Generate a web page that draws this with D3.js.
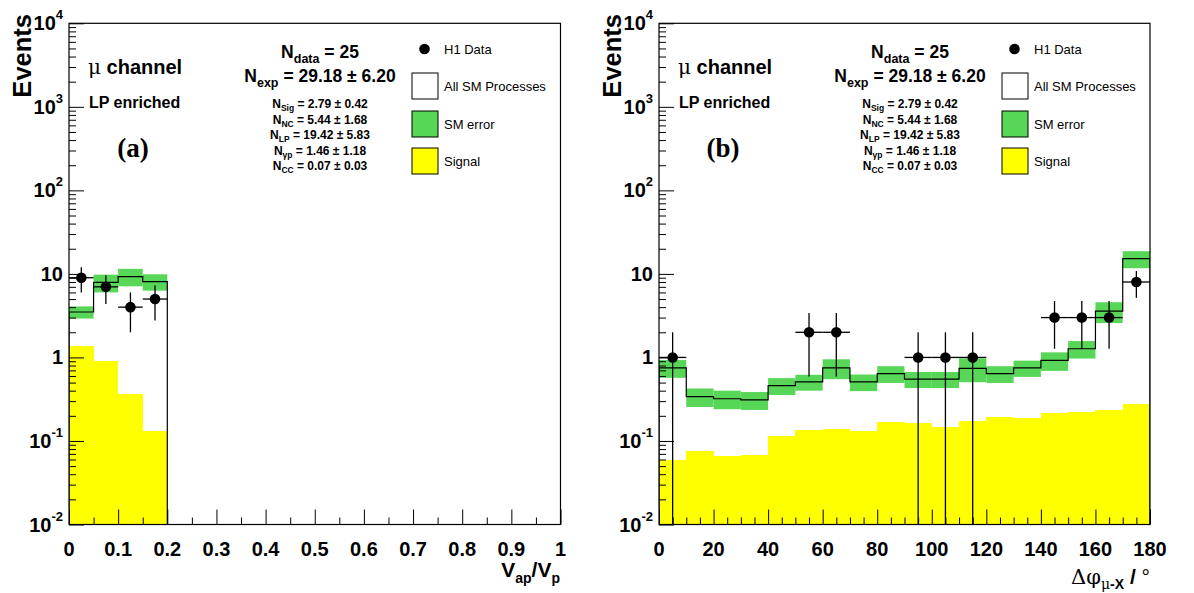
<!DOCTYPE html>
<html>
<head>
<meta charset="utf-8">
<script src="https://cdn.jsdelivr.net/npm/d3@7"></script>
<style>
  html, body { margin: 0; padding: 0; background: #fff; }
  svg { display: block; font-family: "Liberation Sans", Arial, Helvetica, sans-serif; }
</style>
</head>
<body>
<svg id="chart" width="1194" height="593"></svg>
<script>
// ---- (a) V_ap/V_p distribution, 4 bins of 0.05 ----
const aBinLow = [0, 0.05, 0.1, 0.15];
const aBinWidth = 0.05;
const aSM = [3.5, 7.9, 9.3, 8.1];
const aSMErr = [0.58, 1.9, 2.2, 1.8];
const aSignal = [1.38, 0.91, 0.36, 0.133];
const aData = [9, 7, 4, 5];
const aDataErr = [3, 2.65, 2, 2.24];
const aXTicks = [0, 0.1, 0.2, 0.3, 0.4, 0.5, 0.6, 0.7, 0.8, 0.9, 1];
const aXTickLabels = ["0", "0.1", "0.2", "0.3", "0.4", "0.5", "0.6", "0.7", "0.8", "0.9", "1"];
const aXMinor = [0.05, 0.15, 0.25, 0.35, 0.45, 0.55, 0.65, 0.75, 0.85, 0.95];

// ---- (b) Delta phi distribution, 18 bins of 10 degrees ----
const bBinLow = [0, 10, 20, 30, 40, 50, 60, 70, 80, 90, 100, 110, 120, 130, 140, 150, 160, 170];
const bBinWidth = 10;
const bSM = [0.75, 0.34, 0.32, 0.31, 0.46, 0.51, 0.75, 0.51, 0.64, 0.55, 0.55, 0.74, 0.64, 0.75, 0.92, 1.27, 3.58, 15.2];
const bSMErr = [0.18, 0.085, 0.08, 0.075, 0.105, 0.11, 0.2, 0.115, 0.145, 0.12, 0.12, 0.235, 0.145, 0.165, 0.23, 0.3, 1.0, 3.5];
const bSignal = [0.059, 0.076, 0.066, 0.067, 0.116, 0.136, 0.139, 0.132, 0.167, 0.164, 0.148, 0.172, 0.195, 0.187, 0.214, 0.22, 0.237, 0.274];
const bData = [1, 0, 0, 0, 0, 2, 2, 0, 0, 1, 1, 1, 0, 0, 3, 3, 3, 8];
const bDataErr = [1, 0, 0, 0, 0, 1.41, 1.41, 0, 0, 1, 1, 1, 0, 0, 1.73, 1.73, 1.73, 2.83];
const bXTicks = [0, 20, 40, 60, 80, 100, 120, 140, 160, 180];
const bXTickLabels = ["0", "20", "40", "60", "80", "100", "120", "140", "160", "180"];
const bXMinor = d3.range(5, 180, 5).filter(v => v % 20 !== 0);

// ---- shared y axis and summary text ----
const yTicks = [1e-2, 1e-1, 1, 10, 1e2, 1e3, 1e4];
const yTickBase = ["10", "10", "1", "10", "10", "10", "10"];
const yTickExp = ["-2", "-1", "", "", "2", "3", "4"];
const yMinor = [];
for (let e = -2; e < 4; e++) for (let m = 2; m <= 9; m++) yMinor.push(m * Math.pow(10, e));

const summaryTop = [["N", "data", " = 25"], ["N", "exp", " = 29.18 \u00b1 6.20"]];
const summaryParts = [
  ["N", "Sig", " = 2.79 \u00b1 0.42"],
  ["N", "NC", " = 5.44 \u00b1 1.68"],
  ["N", "LP", " = 19.42 \u00b1 5.83"],
  ["N", "\u03b3p", " = 1.46 \u00b1 1.18"],
  ["N", "CC", " = 0.07 \u00b1 0.03"]
];
const legendLabels = ["H1 Data", "All SM Processes", "SM error", "Signal"];

const GREEN = "#57d657";
const YELLOW = "#ffff00";

const svg = d3.select("#chart");

const panels = [
  { id: "a", x0: 69, x1: 560.5, domain: [0, 1], binLow: aBinLow, bw: aBinWidth, sm: aSM, smErr: aSMErr,
    sig: aSignal, data: aData, dataErr: aDataErr, ticks: aXTicks, tickLabels: aXTickLabels, minor: aXMinor, tag: "(a)" },
  { id: "b", x0: 659, x1: 1150, domain: [0, 180], binLow: bBinLow, bw: bBinWidth, sm: bSM, smErr: bSMErr,
    sig: bSignal, data: bData, dataErr: bDataErr, ticks: bXTicks, tickLabels: bXTickLabels, minor: bXMinor, tag: "(b)" }
];

const yTop = 23.3, yBot = 524.5;

panels.forEach(p => {
  const x = d3.scaleLinear().domain(p.domain).range([p.x0, p.x1]);
  const y = d3.scaleLog().domain([1e-2, 1e4]).range([yBot, yTop]).clamp(true);
  const g = svg.append("g");
  const clipId = "clip-" + p.id;
  svg.append("clipPath").attr("id", clipId).append("rect")
    .attr("x", p.x0).attr("y", yTop).attr("width", p.x1 - p.x0).attr("height", yBot - yTop);
  const plot = g.append("g").attr("clip-path", `url(#${clipId})`);

  const bins = p.binLow.map((lo, i) => ({ lo, hi: lo + p.bw, i }));

  // signal contribution (filled)
  plot.selectAll("rect.sig").data(bins).join("rect")
    .attr("x", d => x(d.lo)).attr("width", d => x(d.hi) - x(d.lo))
    .attr("y", d => y(p.sig[d.i])).attr("height", d => yBot - y(p.sig[d.i]))
    .attr("fill", YELLOW).attr("shape-rendering", "crispEdges");

  // SM uncertainty band
  plot.selectAll("rect.band").data(bins).join("rect")
    .attr("x", d => x(d.lo)).attr("width", d => x(d.hi) - x(d.lo))
    .attr("y", d => y(p.sm[d.i] + p.smErr[d.i]))
    .attr("height", d => y(p.sm[d.i] - p.smErr[d.i]) - y(p.sm[d.i] + p.smErr[d.i]))
    .attr("fill", GREEN);

  // SM total as a step outline
  const pts = [[x(bins[0].lo), yBot]];
  bins.forEach(b => { pts.push([x(b.lo), y(p.sm[b.i])]); pts.push([x(b.hi), y(p.sm[b.i])]); });
  pts.push([x(bins[bins.length - 1].hi), yBot]);
  plot.append("path").attr("d", d3.line()(pts)).attr("fill", "none")
    .attr("stroke", "#000").attr("stroke-width", 1.2);

  // data points with error bars
  const dpts = bins.filter(b => p.data[b.i] > 0);
  const dg = plot.selectAll("g.pt").data(dpts).join("g");
  dg.append("line")
    .attr("x1", d => x(d.lo + p.bw / 2)).attr("x2", d => x(d.lo + p.bw / 2))
    .attr("y1", d => y(Math.max(p.data[d.i] - p.dataErr[d.i], 1e-3)))
    .attr("y2", d => y(p.data[d.i] + p.dataErr[d.i]))
    .attr("stroke", "#000").attr("stroke-width", 1.3);
  dg.append("line")
    .attr("x1", d => x(d.lo)).attr("x2", d => x(d.hi))
    .attr("y1", d => y(p.data[d.i])).attr("y2", d => y(p.data[d.i]))
    .attr("stroke", "#000").attr("stroke-width", 1.3);
  dg.append("circle")
    .attr("cx", d => x(d.lo + p.bw / 2)).attr("cy", d => y(p.data[d.i])).attr("r", 5.3)
    .attr("fill", "#000");

  // axes
  const xMaj = d3.axisBottom(x).tickValues(p.ticks).tickSize(-15).tickSizeOuter(0).tickFormat("");
  const xMin = d3.axisBottom(x).tickValues(p.minor).tickSize(-7).tickSizeOuter(0).tickFormat("");
  const yMaj = d3.axisLeft(y).tickValues(yTicks).tickSize(-15).tickSizeOuter(0).tickFormat("");
  const yMin = d3.axisLeft(y).tickValues(yMinor).tickSize(-7).tickSizeOuter(0).tickFormat("");
  [[xMaj, `translate(0,${yBot})`], [xMin, `translate(0,${yBot})`],
   [yMaj, `translate(${p.x0},0)`], [yMin, `translate(${p.x0},0)`]].forEach(([ax, tr]) => {
    const a = g.append("g").attr("transform", tr).call(ax);
    a.select(".domain").remove();
    a.selectAll("line").attr("stroke", "#000").attr("stroke-width", 1);
  });

  // frame
  g.append("rect").attr("x", p.x0).attr("y", yTop).attr("width", p.x1 - p.x0).attr("height", yBot - yTop)
    .attr("fill", "none").attr("stroke", "#000").attr("stroke-width", 1.2);

  // x tick labels
  g.selectAll("text.xl").data(p.ticks).join("text")
    .attr("x", d => x(d)).attr("y", 556)
    .attr("text-anchor", "middle").attr("font-size", 20).attr("font-weight", "bold")
    .text((d, i) => p.tickLabels[i]);

  // y tick labels (powers of ten)
  yTicks.forEach((v, i) => {
    const t = g.append("text").attr("x", p.x0 - 6).attr("y", y(v) + 7)
      .attr("text-anchor", "end").attr("font-size", 20).attr("font-weight", "bold");
    t.append("tspan").text(yTickBase[i]);
    if (yTickExp[i]) t.append("tspan").attr("font-size", 13).attr("dy", -11).text(yTickExp[i]);
  });

  // y title
  g.append("text").attr("transform", `translate(${p.x0 - 38},14) rotate(-90)`)
    .attr("text-anchor", "end").attr("font-size", 25.5).attr("font-weight", "bold").text("Events");

  const off = p.x0 - 69;
  // channel annotations
  const ch = g.append("text").attr("x", 88 + off).attr("y", 74).attr("font-size", 20).attr("font-weight", "bold");
  ch.append("tspan").attr("font-weight", "normal").attr("font-family", "'DejaVu Serif', serif").text("\u03bc");
  ch.append("tspan").text(" channel");
  g.append("text").attr("x", 89 + off).attr("y", 108).attr("font-size", 16).attr("font-weight", "bold").text("LP enriched");
  g.append("text").attr("x", 133 + off).attr("y", 157).attr("text-anchor", "middle")
    .attr("font-size", 27).attr("font-family", "'Liberation Serif', 'DejaVu Serif', serif").attr("font-weight", "bold").text(p.tag);

  // event counts
  summaryTop.forEach((s, i) => {
    const t = g.append("text").attr("x", 320 + off).attr("y", [58, 82][i]).attr("text-anchor", "middle")
      .attr("font-size", 17.5).attr("font-weight", "bold");
    t.append("tspan").text(s[0]);
    t.append("tspan").attr("font-size", 12.5).attr("dy", 5).text(s[1]);
    t.append("tspan").attr("dy", -5).text(s[2]);
  });
  summaryParts.forEach((s, i) => {
    const t = g.append("text").attr("x", 320 + off).attr("y", 108 + i * 15.5).attr("text-anchor", "middle")
      .attr("font-size", 12).attr("font-weight", "bold");
    t.append("tspan").text(s[0]);
    t.append("tspan").attr("font-size", 8.5).attr("dy", 3).text(s[1]);
    t.append("tspan").attr("dy", -3).text(s[2]);
  });

  // legend
  const lx = 412 + off;
  g.append("circle").attr("cx", lx + 12.5).attr("cy", 49).attr("r", 5.3).attr("fill", "#000");
  [["#fff", 73], [GREEN, 111], [YELLOW, 148]].forEach(([c, yy]) => {
    g.append("rect").attr("x", lx).attr("y", yy).attr("width", 26).attr("height", 26)
      .attr("fill", c).attr("stroke", "#000").attr("stroke-width", 1);
  });
  legendLabels.forEach((l, i) => {
    g.append("text").attr("x", lx + 32).attr("y", [54, 91, 129, 166][i])
      .attr("font-size", 13).text(l);
  });
});

// x axis titles
const xa = svg.append("text").attr("x", 560).attr("y", 577).attr("text-anchor", "end")
  .attr("font-size", 21).attr("font-weight", "bold");
xa.append("tspan").text("V");
xa.append("tspan").attr("font-size", 14).attr("dy", 6).text("ap");
xa.append("tspan").attr("dy", -6).text("/V");
xa.append("tspan").attr("font-size", 14).attr("dy", 6).text("p");

const xb = svg.append("text").attr("x", 1150).attr("y", 584).attr("text-anchor", "end")
  .attr("font-size", 21).attr("font-weight", "bold");
xb.append("tspan").attr("font-weight", "normal").attr("font-family", "'DejaVu Serif', serif").text("\u0394\u03c6");
xb.append("tspan").attr("font-size", 14).attr("dy", 5).attr("font-weight", "normal").attr("font-family", "'DejaVu Serif', serif").text("\u03bc");
xb.append("tspan").attr("font-size", 14).text("-X");
xb.append("tspan").attr("dy", -5).text(" / ");
xb.append("tspan").attr("font-weight", "normal").text("\u00b0");
</script>
</body>
</html>
